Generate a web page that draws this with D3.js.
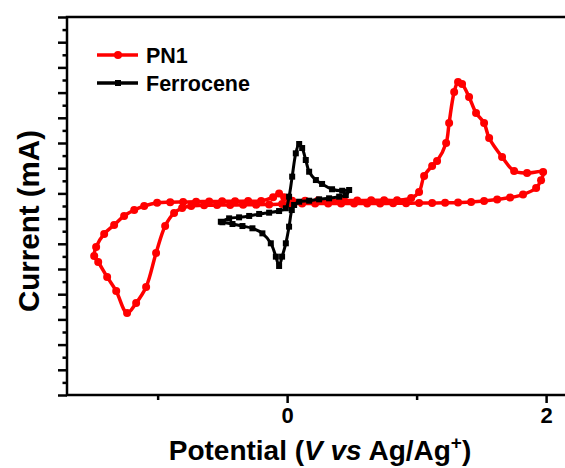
<!DOCTYPE html>
<html>
<head>
<meta charset="utf-8">
<script src="https://cdn.jsdelivr.net/npm/d3@7/dist/d3.min.js"></script>
<style>
  html, body { margin: 0; padding: 0; background: #fff; }
  svg { display: block; }
  text { font-family: Arial, "Liberation Sans", sans-serif; font-weight: bold; }
</style>
</head>
<body>
<svg id="chart" width="565" height="468"></svg>
<script>
'use strict';

// PN1 loop, potential (V) and current (mA), in scan order
var pn1V = [
    0.015, 0.116, 0.216, 0.317, 0.417, 0.517, 0.618, 0.718, 0.819, 0.919,
    1.019, 1.120, 1.220, 1.320, 1.421, 1.521, 1.622, 1.722, 1.822, 1.923,
    1.961, 1.977,
    1.853, 1.753, 1.660, 1.560, 1.521, 1.459, 1.405, 1.351, 1.320, 1.290,
    1.251, 1.228, 1.158, 1.120, 1.058, 1.019, 0.958,
    0.849, 0.749, 0.649, 0.541, 0.440, 0.340, 0.239, 0.139, 0.039,
    -0.023, -0.062, -0.108,
    -0.201, -0.301, -0.402, -0.502, -0.602, -0.703, -0.803, -0.903, -1.004,
    -1.104, -1.181, -1.259, -1.336, -1.413, -1.475, -1.490, -1.459, -1.390,
    -1.320, -1.236, -1.166, -1.089, -1.012, -0.942, -0.873, -0.811, -0.741,
    -0.641, -0.541, -0.440, -0.340, -0.239, -0.139, -0.039, 0.015
];
var pn1I = [
    -0.080, -0.080, -0.080, -0.080, -0.080, -0.080, -0.080, -0.080, -0.079, -0.078,
    -0.077, -0.076, -0.075, -0.072, -0.068, -0.060, -0.048, -0.033, -0.009, 0.043,
    0.105, 0.169,
    0.162, 0.178, 0.289, 0.440, 0.559, 0.638, 0.765, 0.868, 0.884, 0.805,
    0.559, 0.400, 0.257, 0.218, 0.138, 0.011, -0.037,
    -0.054, -0.055, -0.055, -0.056, -0.056, -0.057, -0.057, -0.058, -0.058,
    -0.030, 0.000, -0.030,
    -0.060, -0.061, -0.062, -0.063, -0.064, -0.066, -0.068, -0.070, -0.074,
    -0.100, -0.132, -0.179, -0.251, -0.322, -0.425, -0.497, -0.544, -0.663,
    -0.775, -0.949, -0.870, -0.743, -0.473, -0.259, -0.156, -0.116, -0.100,
    -0.094, -0.093, -0.092, -0.091, -0.090, -0.088, -0.085, -0.080
];

// ferrocene reference
var fcV = [
    -0.512, -0.448, -0.371, -0.293, -0.216, -0.139, -0.062, -0.010, 0.015, 0.039,
    0.067, 0.093, 0.116, 0.144, 0.170, 0.222, 0.270, 0.347, 0.425, 0.479,
    0.453, 0.402, 0.324, 0.247, 0.170, 0.093, 0.054, 0.036, 0.015, -0.010,
    -0.039, -0.062, -0.087, -0.126, -0.191, -0.268, -0.345, -0.422, -0.500
];
var fcI = [
    -0.225, -0.198, -0.190, -0.179, -0.163, -0.153, -0.140, -0.118, -0.026, 0.133,
    0.318, 0.392, 0.360, 0.265, 0.172, 0.106, 0.075, 0.033, 0.021, 0.027,
    -0.013, -0.026, -0.039, -0.047, -0.058, -0.066, -0.092, -0.132, -0.264, -0.396,
    -0.502, -0.576, -0.502, -0.396, -0.317, -0.277, -0.259, -0.243, -0.229
];

var xTicks = [-1, 0, 1, 2];
var xTickLabels = ['', '0', '', '2'];

var svg = d3.select('#chart');

var plotLeft = 67,
    plotTop = 17,
    plotBottom = 395,
    plotRight = 572;

var x = d3.scaleLinear().domain([-1.7, 2.2]).range([plotLeft, plotRight]);
var y = d3.scaleLinear().domain([-1.6, 1.4]).range([plotBottom, plotTop]);

function zip(xs, ys) {
    return xs.map(function(v, i) { return [v, ys[i]]; });
}

var pn1 = zip(pn1V, pn1I),
    fc = zip(fcV, fcI);

var line = d3.line()
    .x(function(d) { return x(d[0]); })
    .y(function(d) { return y(d[1]); })
    .curve(d3.curveCatmullRom.alpha(0.5));

// axes: ticks point outward, no y labels
var xAxis = d3.axisBottom(x)
    .tickValues(xTicks)
    .tickSize(8)
    .tickFormat(function(d, i) { return xTickLabels[i]; });

var gx = svg.append('g')
    .attr('transform', 'translate(0,' + plotBottom + ')')
    .call(xAxis);
gx.select('.domain').remove();
gx.selectAll('.tick line')
    .attr('stroke', '#000')
    .attr('stroke-width', 2.5)
    .attr('y2', function(d) { return d % 2 === 0 ? 8 : 5; });
gx.selectAll('.tick text')
    .attr('y', 12)
    .attr('fill', '#000')
    .style('font-size', '22px');

var yTickVals = d3.range(31).map(function(i) { return -1.6 + i * 0.1; });
var gy = svg.append('g')
    .attr('transform', 'translate(' + plotLeft + ',0)')
    .call(d3.axisLeft(y).tickValues(yTickVals).tickFormat(''));
gy.select('.domain').remove();
gy.selectAll('.tick line')
    .attr('stroke', '#000')
    .attr('stroke-width', 2.5)
    .attr('x2', function(d, i) { return i % 2 === 0 ? -9 : -4.5; });

// frame
svg.append('rect')
    .attr('x', plotLeft)
    .attr('y', plotTop)
    .attr('width', plotRight - plotLeft)
    .attr('height', plotBottom - plotTop)
    .attr('fill', 'none')
    .attr('stroke', '#000')
    .attr('stroke-width', 2.5);

// PN1
svg.append('path')
    .datum(pn1)
    .attr('d', line)
    .attr('fill', 'none')
    .attr('stroke', '#ff0000')
    .attr('stroke-width', 3.5)
    .attr('stroke-linejoin', 'round');

svg.append('g').selectAll('circle')
    .data(pn1)
    .enter().append('circle')
    .attr('cx', function(d) { return x(d[0]); })
    .attr('cy', function(d) { return y(d[1]); })
    .attr('r', 4)
    .attr('fill', '#ff0000');

// ferrocene
svg.append('path')
    .datum(fc)
    .attr('d', line)
    .attr('fill', 'none')
    .attr('stroke', '#000')
    .attr('stroke-width', 3)
    .attr('stroke-linejoin', 'round');

svg.append('g').selectAll('rect')
    .data(fc)
    .enter().append('rect')
    .attr('x', function(d) { return x(d[0]) - 3; })
    .attr('y', function(d) { return y(d[1]) - 3; })
    .attr('width', 6)
    .attr('height', 6)
    .attr('fill', '#000');

// legend
var legend = svg.append('g');
var legendItems = [
    {name: 'PN1', color: '#ff0000', y: 55, mark: 'circle'},
    {name: 'Ferrocene', color: '#000', y: 83, mark: 'square'}
];
legendItems.forEach(function(it) {
    legend.append('line')
        .attr('x1', 97).attr('x2', 138)
        .attr('y1', it.y).attr('y2', it.y)
        .attr('stroke', it.color)
        .attr('stroke-width', 3.5);
    if(it.mark === 'circle') {
        legend.append('circle')
            .attr('cx', 118).attr('cy', it.y).attr('r', 4)
            .attr('fill', it.color);
    }
    else {
        legend.append('rect')
            .attr('x', 115).attr('y', it.y - 3)
            .attr('width', 6).attr('height', 6)
            .attr('fill', it.color);
    }
    legend.append('text')
        .attr('x', 146)
        .attr('y', it.y + 7.5)
        .style('font-size', '21.5px')
        .text(it.name);
});

// axis titles
svg.append('text')
    .attr('transform', 'translate(39,221) rotate(-90)')
    .attr('text-anchor', 'middle')
    .style('font-size', '29.5px')
    .text('Current (mA)');

var xTitle = svg.append('text')
    .attr('x', 320)
    .attr('y', 460)
    .attr('text-anchor', 'middle')
    .style('font-size', '28px');
xTitle.append('tspan').text('Potential (');
xTitle.append('tspan').style('font-style', 'italic').text('V vs');
xTitle.append('tspan').text(' Ag/Ag');
xTitle.append('tspan').attr('dy', -11).style('font-size', '19px').text('+');
xTitle.append('tspan').attr('dy', 11).text(')');
</script>
</body>
</html>
